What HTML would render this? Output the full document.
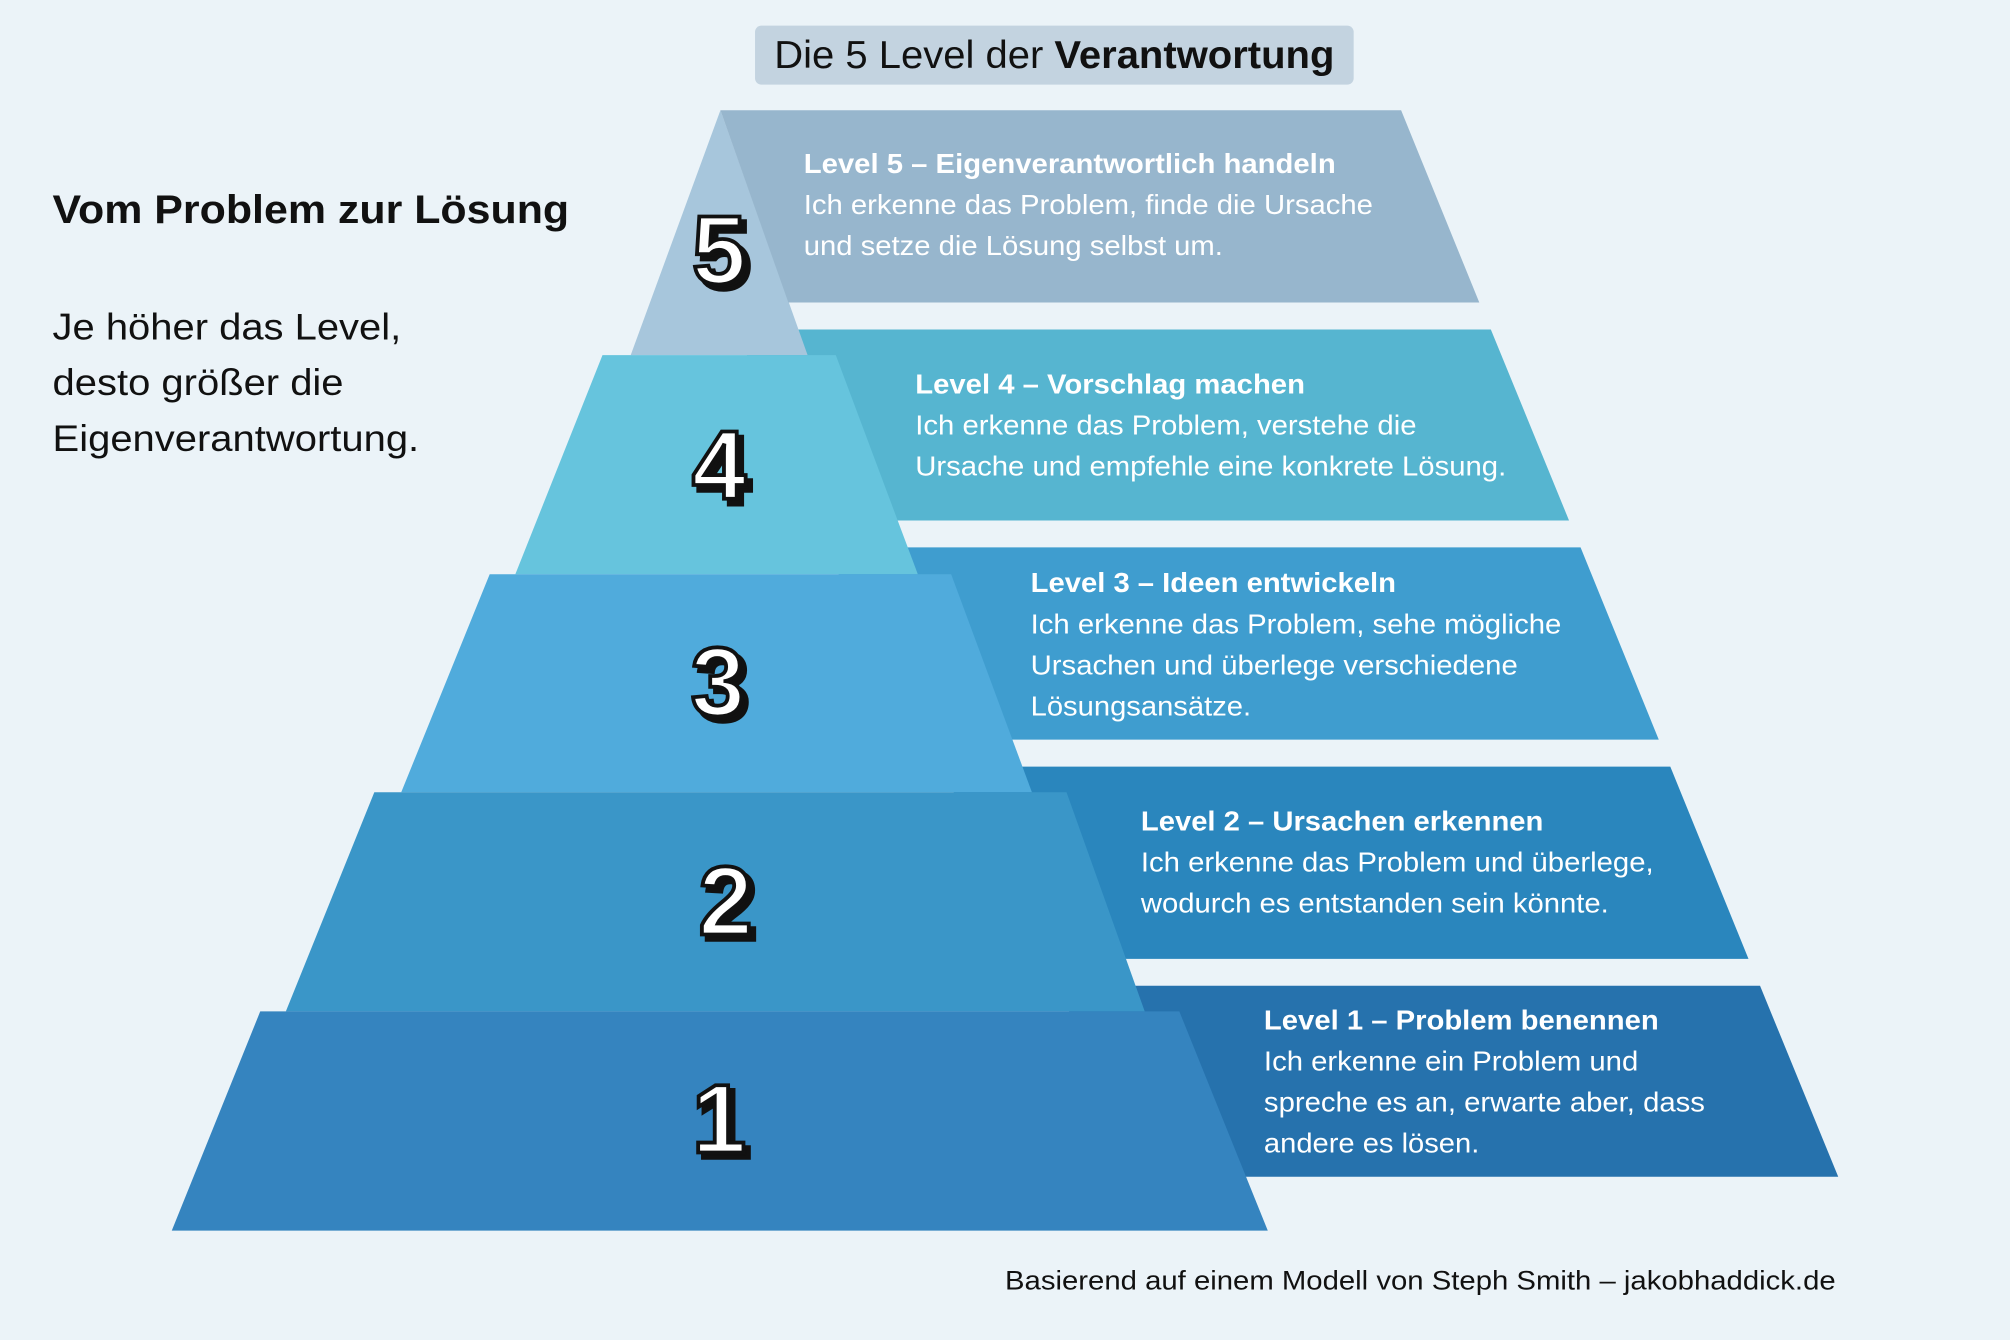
<!DOCTYPE html>
<html><head><meta charset="utf-8"><style>
html,body{margin:0;padding:0;background:#ebf3f8;}
svg{display:block;}
text{font-family:"Liberation Sans",sans-serif;}
.h{font-weight:bold;fill:#fff;font-size:21.5px;}
.b{fill:#fff;font-size:21.5px;}
.n{font-family:"Liberation Sans",sans-serif;font-weight:900;font-size:76px;}
</style></head><body>
<svg width="2010" height="1340" viewBox="0 0 1568 1045.3" xmlns="http://www.w3.org/2000/svg">
<rect width="1568" height="1046" fill="#ebf3f8"/>
<rect x="589" y="20" width="467" height="46" rx="5" fill="#c3d3e0"/>
<text x="604" y="53" font-size="30" fill="#111" textLength="437" lengthAdjust="spacingAndGlyphs">Die 5 Level der <tspan font-weight="bold">Verantwortung</tspan></text>

<text x="41" y="174" font-size="31" font-weight="bold" fill="#111" textLength="403" lengthAdjust="spacingAndGlyphs">Vom Problem zur Lösung</text>
<text x="41" y="265" font-size="29" fill="#111" textLength="272" lengthAdjust="spacingAndGlyphs">Je höher das Level,</text>
<text x="41" y="308" font-size="29" fill="#111" textLength="227" lengthAdjust="spacingAndGlyphs">desto größer die</text>
<text x="41" y="352" font-size="29" fill="#111" textLength="286" lengthAdjust="spacingAndGlyphs">Eigenverantwortung.</text>

<!-- bands -->
<polygon points="580,257 1163,257 1224,406 600,406" fill="#56b5d0"/>
<polygon points="650,427 1233,427 1294,577 680,577" fill="#3f9dcf"/>
<polygon points="740,598 1303,598 1364,748 770,748" fill="#2a86bd"/>
<polygon points="830,769 1373,769 1434,918 860,918" fill="#2672ad"/>

<!-- pyramid -->
<polygon points="562,86 492,277 630,277" fill="#a7c6dc"/>
<polygon points="470,277 652,277 716,448 402,448" fill="#66c4dd"/>
<polygon points="382,448 742,448 805,618 313,618" fill="#50abdc"/>
<polygon points="292,618 832,618 893,789 223,789" fill="#3a96c8"/>
<polygon points="203,789 920,789 989,960 134,960" fill="#3584bf"/>

<polygon points="562,86 1093,86 1154,236 615,236" fill="#97b6cd"/>

<!-- numbers -->
<g class="n" text-anchor="middle">
<g fill="#111" stroke="#111" stroke-width="3.5">
<text x="565" y="225">5</text><text x="565" y="393">4</text><text x="564" y="562">3</text><text x="570" y="733">2</text><text x="565" y="903">1</text>
</g>
<g fill="#fff" stroke="#111" stroke-width="3">
<text x="561" y="221">5</text><text x="561" y="389">4</text><text x="560" y="558">3</text><text x="566" y="729">2</text><text x="561" y="899">1</text>
</g>
</g>

<g lengthAdjust="spacingAndGlyphs">
<text class="h" x="627" y="135" textLength="415" lengthAdjust="spacingAndGlyphs">Level 5 – Eigenverantwortlich handeln</text>
<text class="b" x="627" y="167" textLength="444" lengthAdjust="spacingAndGlyphs">Ich erkenne das Problem, finde die Ursache</text>
<text class="b" x="627" y="199" textLength="327" lengthAdjust="spacingAndGlyphs">und setze die Lösung selbst um.</text>

<text class="h" x="714" y="307" textLength="304" lengthAdjust="spacingAndGlyphs">Level 4 – Vorschlag machen</text>
<text class="b" x="714" y="339" textLength="391" lengthAdjust="spacingAndGlyphs">Ich erkenne das Problem, verstehe die</text>
<text class="b" x="714" y="371" textLength="461" lengthAdjust="spacingAndGlyphs">Ursache und empfehle eine konkrete Lösung.</text>

<text class="h" x="804" y="462" textLength="285" lengthAdjust="spacingAndGlyphs">Level 3 – Ideen entwickeln</text>
<text class="b" x="804" y="494" textLength="414" lengthAdjust="spacingAndGlyphs">Ich erkenne das Problem, sehe mögliche</text>
<text class="b" x="804" y="526" textLength="380" lengthAdjust="spacingAndGlyphs">Ursachen und überlege verschiedene</text>
<text class="b" x="804" y="558" textLength="172" lengthAdjust="spacingAndGlyphs">Lösungsansätze.</text>

<text class="h" x="890" y="648" textLength="314" lengthAdjust="spacingAndGlyphs">Level 2 – Ursachen erkennen</text>
<text class="b" x="890" y="680" textLength="400" lengthAdjust="spacingAndGlyphs">Ich erkenne das Problem und überlege,</text>
<text class="b" x="890" y="712" textLength="365" lengthAdjust="spacingAndGlyphs">wodurch es entstanden sein könnte.</text>

<text class="h" x="986" y="803" textLength="308" lengthAdjust="spacingAndGlyphs">Level 1 – Problem benennen</text>
<text class="b" x="986" y="835" textLength="292" lengthAdjust="spacingAndGlyphs">Ich erkenne ein Problem und</text>
<text class="b" x="986" y="867" textLength="344" lengthAdjust="spacingAndGlyphs">spreche es an, erwarte aber, dass</text>
<text class="b" x="986" y="899" textLength="168" lengthAdjust="spacingAndGlyphs">andere es lösen.</text>
</g>

<text x="784" y="1006" font-size="21" fill="#111" textLength="648" lengthAdjust="spacingAndGlyphs">Basierend auf einem Modell von Steph Smith – jakobhaddick.de</text>
</svg>
</body></html>
